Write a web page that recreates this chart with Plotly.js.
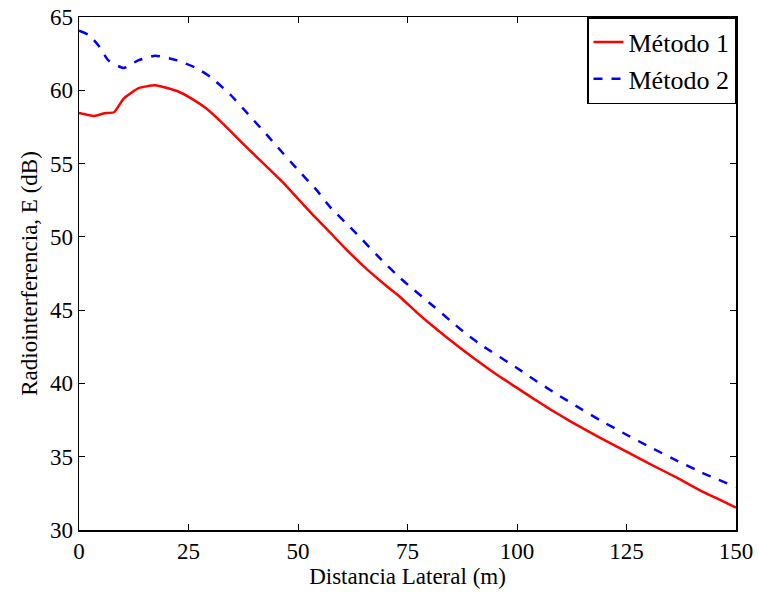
<!DOCTYPE html>
<html>
<head>
<meta charset="utf-8">
<script src="https://cdn.plot.ly/plotly-3.0.1.min.js"></script>
<style>html,body{margin:0;padding:0;background:#fff;}#chart{width:759px;height:602px;}</style>
</head>
<body>
<div id="chart"></div>
<script>
const x1 = [0, 3.5, 5.8, 8, 10.2, 13.5, 17.4, 22.4, 25.7, 29, 32.4, 36.8, 39, 43.5, 46.6, 50, 53.4, 57.3, 61, 65.7, 70, 73.3, 77.1, 80, 84.7, 90, 96.1, 100, 103.3, 107.5, 112, 118.9, 125, 130.4, 136.6, 142.1, 146.6, 150];
const y1 = [58.46, 58.25, 58.43, 58.5, 59.43, 60.13, 60.34, 59.95, 59.43, 58.77, 57.86, 56.55, 55.9, 54.6, 53.7, 52.6, 51.5, 50.3, 49.15, 47.8, 46.7, 45.9, 44.85, 44.1, 42.96, 41.75, 40.45, 39.7, 39.05, 38.25, 37.45, 36.3, 35.35, 34.5, 33.55, 32.65, 32.02, 31.52];
const x2 = [0, 2.4, 4.7, 6.7, 10.2, 13.5, 17.4, 22.4, 26.8, 30.2, 34.6, 39, 43.5, 45.1, 49.9, 54.5, 57.3, 63.4, 69.5, 73.3, 75.2, 81.2, 84.7, 88.5, 92.2, 100, 103.7, 108.9, 114.4, 118.9, 125, 130.4, 136.6, 142.1, 150];
const y2 = [64.06, 63.74, 62.96, 62.04, 61.52, 62.04, 62.36, 62.04, 61.52, 60.87, 59.69, 58.25, 56.75, 56.2, 54.6, 53.1, 52.05, 50.2, 48.3, 47.2, 46.7, 45.2, 44.3, 43.35, 42.55, 41.05, 40.3, 39.3, 38.3, 37.5, 36.5, 35.65, 34.72, 33.93, 32.93];
const names = ['Método 1', 'Método 2'];
const xTicks = [0, 25, 50, 75, 100, 125, 150];
const yTicks = [30, 35, 40, 45, 50, 55, 60, 65];

const FONT = "'Liberation Serif', 'Times New Roman', Times, serif";
const traces = [
  {x: x1, y: y1, name: names[0], mode: 'lines', line: {color: '#ff0000', width: 2.5, shape: 'spline', smoothing: 0.5}},
  {x: x2, y: y2, name: names[1], mode: 'lines', line: {color: '#0000ff', width: 2.5, dash: 'dash', shape: 'spline', smoothing: 0.5}}
];
const axisCommon = {
  showgrid: false, zeroline: false, showline: true, linecolor: '#000', linewidth: 1.5,
  mirror: 'ticks', ticks: 'inside', ticklen: 6, tickcolor: '#000', tickwidth: 1,
  tickfont: {family: FONT, size: 23, color: '#000'}
};
const layout = {
  width: 759, height: 602,
  margin: {l: 79, r: 23, t: 17, b: 72},
  paper_bgcolor: '#fff', plot_bgcolor: '#fff',
  font: {family: FONT, color: '#000'},
  showlegend: true,
  legend: {x: 1, xanchor: 'right', y: 1, yanchor: 'top', bordercolor: '#000', borderwidth: 1.5,
    bgcolor: '#fff', font: {family: FONT, size: 26, color: '#000'}, tracegroupgap: 0},
  xaxis: Object.assign({}, axisCommon, {range: [0, 150], tickvals: xTicks, ticktext: xTicks.map(String),
    title: {text: 'Distancia Lateral (m)', font: {family: FONT, size: 23, color: '#000'}, standoff: 4}}),
  yaxis: Object.assign({}, axisCommon, {range: [30, 65], tickvals: yTicks, ticktext: yTicks.map(String),
    title: {text: 'Radiointerferencia, E (dB)', font: {family: FONT, size: 23, color: '#000'}, standoff: 6}})
};
Plotly.newPlot('chart', traces, layout, {displayModeBar: false, staticPlot: true});
</script>
</body>
</html>
